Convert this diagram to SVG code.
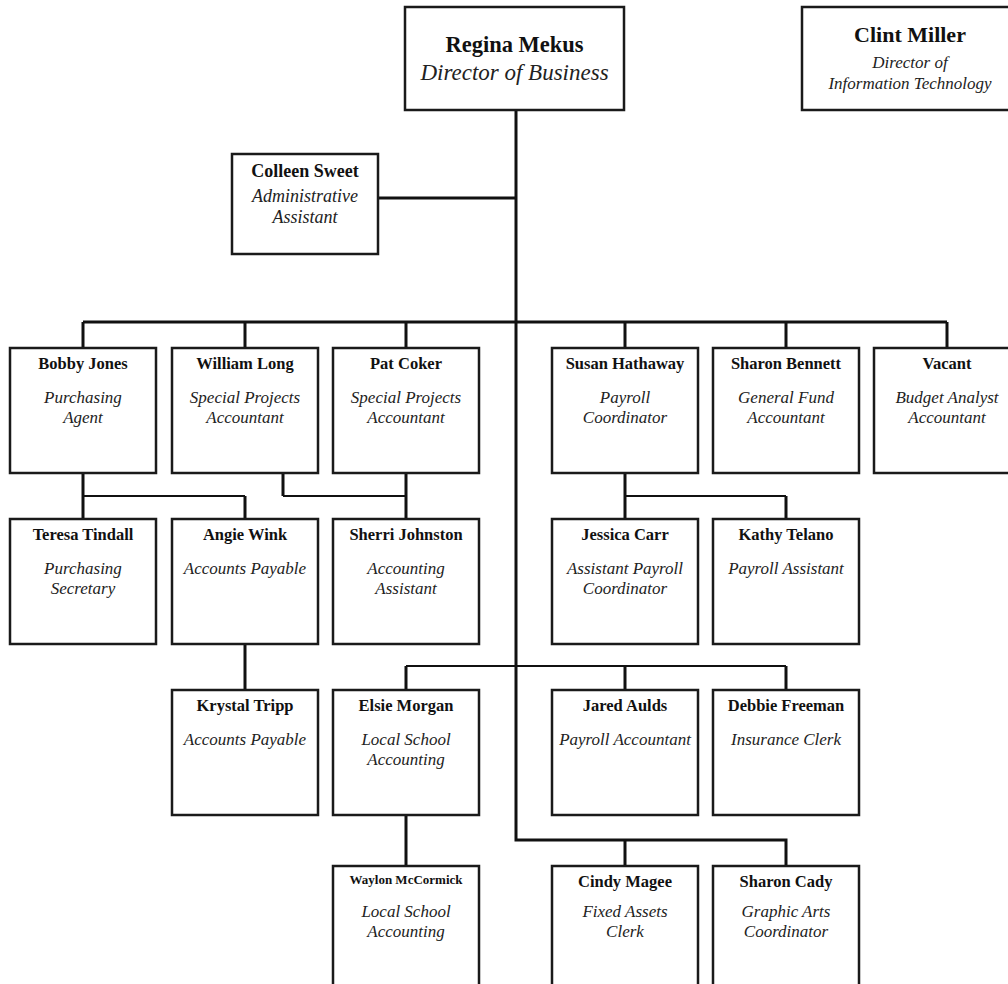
<svg xmlns="http://www.w3.org/2000/svg" width="1008" height="984" viewBox="0 0 1008 984">
<style>
.box{fill:#fff;stroke:#1a1a1a;stroke-width:2.5}
.n{font-family:"Liberation Serif","Times New Roman",serif;font-weight:bold;font-size:16.5px;fill:#111;text-anchor:middle}
.t{font-family:"Liberation Serif","Times New Roman",serif;font-style:italic;font-size:17px;fill:#222;text-anchor:middle}
.main{fill:none;stroke:#111;stroke-width:3}
.thin{fill:none;stroke:#111;stroke-width:2}
</style>
<rect width="1008" height="984" fill="#fff"/>
<g id="connectors">
<path class="main" d="M516 110 V840 H786 V866 M625 840 V866 M378 198 H516"/>
<path class="main" d="M83 322 H947 M83 322 V348 M245 322 V348 M406 322 V348 M625 322 V348 M786 322 V348 M947 322 V348"/>
<path class="main" d="M83 473 V519 M245 496 V519 M283 473 V496 M406 473 V519 M625 473 V519 M786 496 V519"/>
<path class="thin" d="M83 496 H245 M283 496 H406 M625 496 H786"/>
<path class="main" d="M245 644 V690 M406 666 V690 M625 666 V690 M786 666 V690 M406 815 V866"/>
<path class="thin" d="M406 666 H786"/>
</g>
<g id="regina"><rect class="box" x="405" y="7" width="219" height="103"/><text class="n" x="514.5" y="52" style="font-size:22.5px">Regina Mekus</text><text class="t" x="514.5" y="80" style="font-size:23px">Director of Business</text></g>
<g id="clint"><rect class="box" x="802" y="7" width="216" height="103"/><text class="n" x="910" y="42" style="font-size:22px">Clint Miller</text><text class="t" x="910" y="68">Director of</text><text class="t" x="910" y="89">Information Technology</text></g>
<g id="colleen"><rect class="box" x="232" y="154" width="146" height="100"/><text class="n" x="305" y="177" style="font-size:18px">Colleen Sweet</text><text class="t" x="305" y="202" style="font-size:18px">Administrative</text><text class="t" x="305" y="223" style="font-size:18px">Assistant</text></g>

<g id="bobby"><rect class="box" x="10" y="348" width="146" height="125"/><text class="n" x="83" y="369">Bobby Jones</text><text class="t" x="83" y="403">Purchasing</text><text class="t" x="83" y="423">Agent</text></g>
<g id="william"><rect class="box" x="172" y="348" width="146" height="125"/><text class="n" x="245" y="369">William Long</text><text class="t" x="245" y="403">Special Projects</text><text class="t" x="245" y="423">Accountant</text></g>
<g id="pat"><rect class="box" x="333" y="348" width="146" height="125"/><text class="n" x="406" y="369">Pat Coker</text><text class="t" x="406" y="403">Special Projects</text><text class="t" x="406" y="423">Accountant</text></g>
<g id="susan"><rect class="box" x="552" y="348" width="146" height="125"/><text class="n" x="625" y="369">Susan Hathaway</text><text class="t" x="625" y="403">Payroll</text><text class="t" x="625" y="423">Coordinator</text></g>
<g id="sharonb"><rect class="box" x="713" y="348" width="146" height="125"/><text class="n" x="786" y="369">Sharon Bennett</text><text class="t" x="786" y="403">General Fund</text><text class="t" x="786" y="423">Accountant</text></g>
<g id="vacant"><rect class="box" x="874" y="348" width="146" height="125"/><text class="n" x="947" y="369">Vacant</text><text class="t" x="947" y="403">Budget Analyst</text><text class="t" x="947" y="423">Accountant</text></g>

<g id="teresa"><rect class="box" x="10" y="519" width="146" height="125"/><text class="n" x="83" y="540">Teresa Tindall</text><text class="t" x="83" y="574">Purchasing</text><text class="t" x="83" y="594">Secretary</text></g>
<g id="angie"><rect class="box" x="172" y="519" width="146" height="125"/><text class="n" x="245" y="540">Angie Wink</text><text class="t" x="245" y="574">Accounts Payable</text></g>
<g id="sherri"><rect class="box" x="333" y="519" width="146" height="125"/><text class="n" x="406" y="540">Sherri Johnston</text><text class="t" x="406" y="574">Accounting</text><text class="t" x="406" y="594">Assistant</text></g>
<g id="jessica"><rect class="box" x="552" y="519" width="146" height="125"/><text class="n" x="625" y="540">Jessica Carr</text><text class="t" x="625" y="574">Assistant Payroll</text><text class="t" x="625" y="594">Coordinator</text></g>
<g id="kathy"><rect class="box" x="713" y="519" width="146" height="125"/><text class="n" x="786" y="540">Kathy Telano</text><text class="t" x="786" y="574">Payroll Assistant</text></g>

<g id="krystal"><rect class="box" x="172" y="690" width="146" height="125"/><text class="n" x="245" y="711">Krystal Tripp</text><text class="t" x="245" y="745">Accounts Payable</text></g>
<g id="elsie"><rect class="box" x="333" y="690" width="146" height="125"/><text class="n" x="406" y="711">Elsie Morgan</text><text class="t" x="406" y="745">Local School</text><text class="t" x="406" y="765">Accounting</text></g>
<g id="jared"><rect class="box" x="552" y="690" width="146" height="125"/><text class="n" x="625" y="711">Jared Aulds</text><text class="t" x="625" y="745">Payroll Accountant</text></g>
<g id="debbie"><rect class="box" x="713" y="690" width="146" height="125"/><text class="n" x="786" y="711">Debbie Freeman</text><text class="t" x="786" y="745">Insurance Clerk</text></g>

<g id="waylon"><rect class="box" x="333" y="866" width="146" height="130"/><text class="n" x="406" y="884" style="font-size:13px">Waylon McCormick</text><text class="t" x="406" y="917">Local School</text><text class="t" x="406" y="937">Accounting</text></g>
<g id="cindy"><rect class="box" x="552" y="866" width="146" height="130"/><text class="n" x="625" y="887">Cindy Magee</text><text class="t" x="625" y="917">Fixed Assets</text><text class="t" x="625" y="937">Clerk</text></g>
<g id="sharonc"><rect class="box" x="713" y="866" width="146" height="130"/><text class="n" x="786" y="887">Sharon Cady</text><text class="t" x="786" y="917">Graphic Arts</text><text class="t" x="786" y="937">Coordinator</text></g>
</svg>
